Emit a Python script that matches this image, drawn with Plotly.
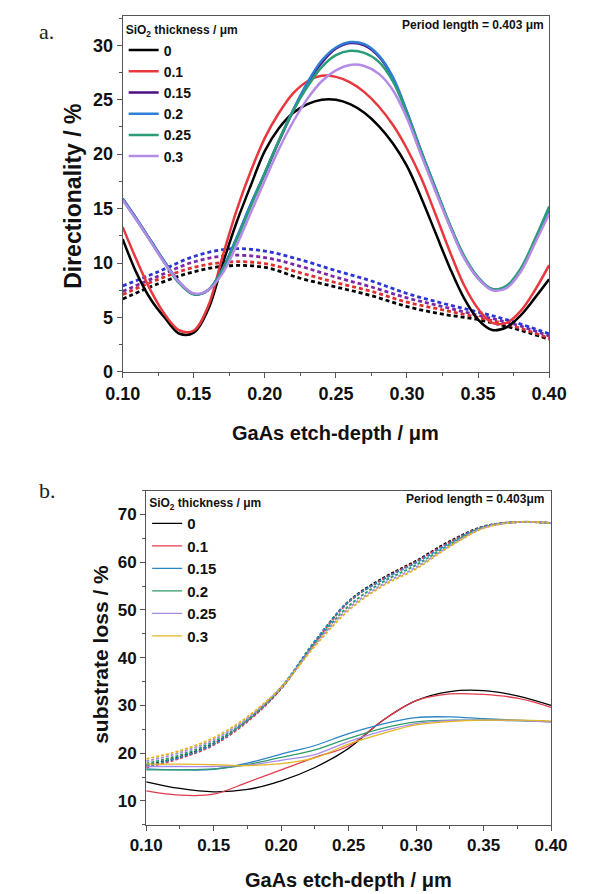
import plotly.graph_objects as go

# ---------------- Panel a: Directionality ----------------
thickness = ["0", "0.1", "0.15", "0.2", "0.25", "0.3"]
colors_a = ["#000000", "#e8383d", "#4f0d86", "#2f7fd6", "#2a9d78", "#b48be6"]
colors_a_dash = ["#000000", "#e0302f", "#7a2aa6", "#2b35d8"]

x_a = [0.10, 0.11, 0.12, 0.13, 0.14, 0.15, 0.16, 0.17, 0.18, 0.19, 0.20,
       0.21, 0.22, 0.23, 0.24, 0.25, 0.26, 0.27, 0.28, 0.29, 0.30,
       0.31, 0.32, 0.33, 0.34, 0.35, 0.36, 0.37, 0.38, 0.39, 0.40]

dir_0 = [12.2, 9.0, 6.6, 4.9, 3.5, 3.6, 5.7, 9.8, 13.7, 17.1, 20.3,
         22.4, 23.8, 24.6, 25.0, 25.0, 24.6, 23.8, 22.6, 21.0, 18.9,
         16.0, 12.8, 9.6, 6.8, 4.8, 3.85, 4.1, 5.2, 6.8, 8.5]
dir_01 = [13.3, 10.2, 7.4, 5.2, 3.8, 3.8, 6.0, 10.5, 14.8, 18.4, 21.5,
          23.8, 25.6, 26.7, 27.2, 27.1, 26.6, 25.7, 24.4, 22.7, 20.5,
          17.8, 14.5, 11.1, 8.0, 5.8, 4.5, 4.5, 5.6, 7.5, 9.8]
dir_015 = [15.9, 14.0, 12.0, 10.0, 8.2, 7.15, 7.5, 9.4, 12.2, 15.3, 18.2,
           21.2, 24.0, 26.5, 28.4, 29.7, 30.2, 30.0, 29.0, 27.0, 23.8,
           20.2, 16.8, 13.5, 10.6, 8.6, 7.6, 7.8, 9.3, 12.0, 15.0]
dir_02 = [15.9, 14.0, 12.0, 10.0, 8.2, 7.15, 7.5, 9.4, 12.3, 15.4, 18.3,
          21.3, 24.1, 26.6, 28.6, 29.8, 30.3, 30.1, 29.1, 27.1, 23.9,
          20.3, 16.9, 13.5, 10.6, 8.6, 7.6, 7.8, 9.3, 12.0, 15.0]
dir_025 = [15.8, 13.9, 11.9, 9.9, 8.1, 7.1, 7.5, 9.3, 12.1, 15.2, 18.3,
           21.3, 24.0, 26.2, 28.0, 29.1, 29.5, 29.3, 28.5, 26.7, 23.7,
           20.2, 16.9, 13.6, 10.7, 8.7, 7.6, 7.9, 9.5, 12.2, 15.2]
dir_03 = [15.8, 13.9, 11.9, 9.9, 8.2, 7.2, 7.5, 9.0, 11.6, 14.6, 17.6,
          20.5, 23.0, 25.1, 26.7, 27.7, 28.2, 28.1, 27.4, 25.9, 23.3,
          19.9, 16.6, 13.4, 10.5, 8.6, 7.5, 7.7, 9.2, 11.8, 14.5]
dir_solid = [dir_0, dir_01, dir_015, dir_02, dir_025, dir_03]

x_a_dash = [0.10, 0.125, 0.15, 0.175, 0.20, 0.225, 0.25, 0.275, 0.30,
            0.325, 0.35, 0.375, 0.40]
dirdash_0 = [6.7, 8.1, 9.2, 9.75, 9.6, 8.6, 7.8, 7.0, 6.0, 5.3, 4.8, 4.0, 3.0]
dirdash_01 = [7.1, 8.5, 9.6, 10.1, 9.95, 9.1, 8.2, 7.4, 6.4, 5.7, 5.0, 4.2, 3.1]
dirdash_015 = [7.4, 8.8, 10.1, 10.7, 10.5, 9.7, 8.7, 7.8, 6.8, 6.0, 5.2, 4.4, 3.3]
dirdash_02 = [7.9, 9.2, 10.6, 11.3, 11.1, 10.3, 9.3, 8.35, 7.2, 6.3, 5.5, 4.6, 3.5]
dir_dashed = [dirdash_0, dirdash_01, dirdash_015, dirdash_02]

# ---------------- Panel b: substrate loss ----------------
colors_b = ["#000000", "#e23b4b", "#2a86c6", "#2e9a6a", "#a88be8", "#e3b522"]
x_b = [0.10, 0.125, 0.15, 0.175, 0.20, 0.225, 0.25, 0.275, 0.30,
       0.325, 0.35, 0.375, 0.40]

loss_0 = [14.0, 12.6, 11.9, 12.4, 14.2, 17.0, 21.0, 26.8, 31.0, 32.9, 33.1, 32.0, 30.0]
loss_01 = [12.1, 11.2, 11.4, 13.9, 16.5, 19.1, 21.5, 26.8, 31.0, 32.4, 32.3, 31.5, 29.6]
loss_015 = [16.7, 16.5, 16.6, 17.9, 19.8, 21.6, 24.1, 26.1, 27.45, 27.6, 27.2, 26.9, 26.6]
loss_02 = [16.5, 16.5, 16.7, 17.6, 19.1, 20.7, 23.1, 25.2, 26.55, 26.9, 26.9, 26.8, 26.6]
loss_025 = [17.2, 17.2, 17.2, 17.5, 18.5, 19.7, 22.4, 24.6, 26.2, 26.8, 26.9, 26.8, 26.5]
loss_03 = [17.7, 17.7, 17.6, 17.4, 17.8, 19.0, 21.9, 24.1, 25.9, 26.6, 26.9, 26.9, 26.7]
loss_solid = [loss_0, loss_01, loss_015, loss_02, loss_025, loss_03]

lossd_0 = [17.4, 19.2, 22.0, 26.8, 33.6, 43.3, 51.8, 56.6, 60.3, 64.4, 67.5, 68.4, 68.2]
lossd_01 = [17.0, 18.9, 21.7, 26.6, 33.5, 43.2, 51.6, 56.4, 60.1, 64.2, 67.4, 68.4, 68.2]
lossd_015 = [17.3, 19.1, 21.9, 26.9, 33.8, 43.5, 51.7, 56.3, 59.9, 64.0, 67.4, 68.4, 68.2]
lossd_02 = [17.8, 19.6, 22.4, 27.0, 33.7, 43.0, 50.8, 55.8, 59.4, 63.7, 67.3, 68.4, 68.2]
lossd_025 = [18.3, 20.1, 22.8, 27.3, 33.7, 42.7, 50.3, 55.3, 58.9, 63.4, 67.2, 68.4, 68.2]
lossd_03 = [18.8, 20.5, 23.2, 27.6, 33.8, 42.4, 49.9, 55.0, 58.6, 63.3, 67.1, 68.4, 68.2]
loss_dashed = [lossd_0, lossd_01, lossd_015, lossd_02, lossd_025, lossd_03]

x_ticks = [0.10, 0.15, 0.20, 0.25, 0.30, 0.35, 0.40]
x_ticktext = ["0.10", "0.15", "0.20", "0.25", "0.30", "0.35", "0.40"]

FONT = "Liberation Sans"
W, H = 592, 894

fig = go.Figure()

# panel a dashed
for ys, c in zip(dir_dashed, colors_a_dash):
    fig.add_trace(go.Scatter(x=x_a_dash, y=ys, mode="lines", showlegend=False,
                             line=dict(color=c, width=2.8, dash="4px,3px", shape="spline"),
                             xaxis="x", yaxis="y"))
# panel a solid
for ys, c, name in zip(dir_solid, colors_a, thickness):
    fig.add_trace(go.Scatter(x=x_a, y=ys, mode="lines", name=name, legend="legend",
                             line=dict(color=c, width=2.5, shape="spline"),
                             xaxis="x", yaxis="y"))
# panel b dashed
for ys, c in zip(loss_dashed, colors_b):
    fig.add_trace(go.Scatter(x=x_b, y=ys, mode="lines", showlegend=False,
                             line=dict(color=c, width=1.9, dash="3px,2px", shape="spline"),
                             xaxis="x2", yaxis="y2"))
# panel b solid
for ys, c, name in zip(loss_solid, colors_b, thickness):
    fig.add_trace(go.Scatter(x=x_b, y=ys, mode="lines", name=name, legend="legend2",
                             line=dict(color=c, width=1.3, shape="spline"),
                             xaxis="x2", yaxis="y2"))


def axis_style(size):
    return dict(showline=True, mirror=True, linecolor="#555555", linewidth=1.3,
                ticks="outside", ticklen=5, tickwidth=1.2, tickcolor="#555555",
                showgrid=False, zeroline=False,
                tickfont=dict(family=FONT, size=size, color="#111111", weight="bold"))


minor_style = dict(ticks="outside", ticklen=3, tickcolor="#555555")

fig.update_layout(
    width=W, height=H,
    margin=dict(l=0, r=0, t=0, b=0),
    paper_bgcolor="white", plot_bgcolor="white",
    xaxis=dict(domain=[103 / W, 557 / W], range=[0.1, 0.4], anchor="y",
               tickvals=x_ticks, ticktext=x_ticktext,
               minor=dict(dtick=0.025, tick0=0.1, **minor_style),
               **axis_style(18)),
    yaxis=dict(domain=[1 - 368 / H, 1 - 8 / H], range=[0, 32.7], anchor="x",
               dtick=5, tick0=0,
               minor=dict(dtick=2.5, tick0=0, **minor_style),
               **axis_style(18)),
    xaxis2=dict(domain=[128 / W, 559 / W], range=[0.1, 0.4], anchor="y2",
                tickvals=x_ticks, ticktext=x_ticktext,
                minor=dict(dtick=0.025, tick0=0.1, **minor_style),
                **axis_style(17)),
    yaxis2=dict(domain=[1 - 826 / H, 1 - 488 / H], range=[5, 75], anchor="x2",
                tickvals=[10, 20, 30, 40, 50, 60, 70],
                minor=dict(dtick=5, tick0=5, **minor_style),
                **axis_style(17)),
    legend=dict(x=104 / W, y=1 - 11 / H, xanchor="left", yanchor="top",
                bgcolor="rgba(0,0,0,0)", borderwidth=0, tracegroupgap=0,
                title=dict(text="SiO<sub>2</sub> thickness / μm",
                           font=dict(family=FONT, size=12, color="#111111", weight="bold")),
                font=dict(family=FONT, size=14, color="#111111", weight="bold")),
    legend2=dict(x=129 / W, y=1 - 489 / H, xanchor="left", yanchor="top",
                 bgcolor="rgba(0,0,0,0)", borderwidth=0, tracegroupgap=0,
                 title=dict(text="SiO<sub>2</sub> thickness / μm",
                            font=dict(family=FONT, size=12, color="#111111", weight="bold")),
                 font=dict(family=FONT, size=15, color="#111111", weight="bold")),
)

ann = [
    dict(text="a.", x=12 / W, y=1 - 24 / H, xanchor="left", yanchor="middle",
         font=dict(family="Liberation Serif", size=22, color="#222222")),
    dict(text="b.", x=12 / W, y=1 - 488 / H, xanchor="left", yanchor="middle",
         font=dict(family="Liberation Serif", size=22, color="#222222")),
    dict(text="Period length = 0.403 μm", x=554 / W, y=1 - 17 / H, xanchor="right", yanchor="middle",
         font=dict(family=FONT, size=12, color="#111111", weight="bold")),
    dict(text="Period length = 0.403μm", x=554 / W, y=1 - 497 / H, xanchor="right", yanchor="middle",
         font=dict(family=FONT, size=12, color="#111111", weight="bold")),
    dict(text="Directionality / %", x=50 / W, y=1 - 190 / H, textangle=-90,
         xanchor="center", yanchor="middle",
         font=dict(family=FONT, size=23, color="#111111", weight="bold")),
    dict(text="GaAs etch-depth / μm", x=330 / W, y=1 - 430 / H, xanchor="center", yanchor="middle",
         font=dict(family=FONT, size=20, color="#111111", weight="bold")),
    dict(text="substrate loss / %", x=80 / W, y=1 - 654 / H, textangle=-90,
         xanchor="center", yanchor="middle",
         font=dict(family=FONT, size=21, color="#111111", weight="bold")),
    dict(text="GaAs etch-depth / μm", x=343 / W, y=1 - 882 / H, xanchor="center", yanchor="middle",
         font=dict(family=FONT, size=20, color="#111111", weight="bold")),
]
for a in ann:
    a.update(xref="paper", yref="paper", showarrow=False)
fig.update_layout(annotations=ann)

fig.write_html("out.html")
